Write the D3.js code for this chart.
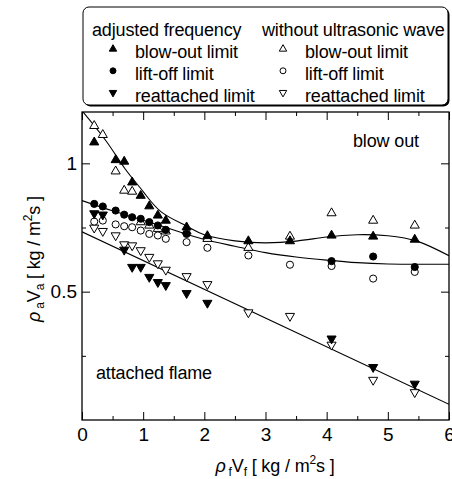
<!DOCTYPE html>
<html lang="en">
<head>
<meta charset="UTF-8">
<title>flame limits</title>
<style>
  body { margin: 0; background: #fff; }
  svg text { font-family: "Liberation Sans", Arial, sans-serif; fill: #000; }
  .lbl { letter-spacing: -0.15px; }
</style>
</head>
<body>
<svg width="452" height="479" id="svg"></svg>
<script src="https://d3js.org/d3.v7.min.js"></script>
<script>
// measured points, x = rho_f V_f, y = rho_a V_a
const blowAdjX = [0.2, 0.55, 0.69, 0.82, 0.96, 1.1, 1.24, 1.37, 1.71, 2.05, 2.72, 3.4, 4.08, 4.76, 5.44]
const blowAdjY = [1.082, 1.013, 1.007, 0.926, 0.874, 0.833, 0.797, 0.777, 0.751, 0.717, 0.697, 0.697, 0.719, 0.715, 0.703]

const blowNoX = [0.2, 0.34, 0.55, 0.69, 0.82, 0.96, 1.1, 1.24, 1.37, 1.71, 2.05, 2.72, 3.4, 4.08, 4.76, 5.44]
const blowNoY = [1.146, 1.111, 0.969, 0.894, 0.89, 0.771, 0.758, 0.745, 0.735, 0.735, 0.706, 0.671, 0.715, 0.806, 0.777, 0.758]

const liftAdjX = [0.2, 0.34, 0.55, 0.69, 0.82, 0.96, 1.1, 1.24, 1.37, 1.71, 4.08, 4.76, 5.44]
const liftAdjY = [0.842, 0.832, 0.816, 0.8, 0.79, 0.784, 0.771, 0.758, 0.741, 0.725, 0.619, 0.637, 0.596]

const liftNoX = [0.2, 0.34, 0.55, 0.69, 0.82, 0.96, 1.1, 1.24, 1.37, 1.71, 2.05, 2.72, 3.4, 4.08, 4.76, 5.44]
const liftNoY = [0.773, 0.777, 0.762, 0.755, 0.751, 0.738, 0.725, 0.719, 0.706, 0.693, 0.671, 0.641, 0.605, 0.6, 0.551, 0.577]

const reatAdjX = [0.2, 0.34, 0.69, 0.82, 0.96, 1.1, 1.24, 1.37, 1.71, 2.05, 4.08, 4.76, 5.44]
const reatAdjY = [0.805, 0.8, 0.663, 0.596, 0.596, 0.557, 0.537, 0.525, 0.494, 0.456, 0.317, 0.206, 0.141]

const reatNoX = [0.2, 0.34, 0.55, 0.69, 0.82, 0.96, 1.1, 1.24, 1.37, 1.71, 2.05, 2.72, 3.4, 4.08, 4.76, 5.44]
const reatNoY = [0.749, 0.736, 0.719, 0.684, 0.68, 0.661, 0.635, 0.61, 0.585, 0.56, 0.529, 0.419, 0.405, 0.293, 0.156, 0.108]

// fitted curves
const blowFitX = [0, 0.4, 0.7, 1.0, 1.3, 1.7, 2.0, 2.5, 3.0, 3.5, 4.0, 4.5, 5.0, 5.5, 6.0]
const blowFitY = [1.205, 1.085, 0.98, 0.89, 0.81, 0.757, 0.722, 0.698, 0.69, 0.697, 0.713, 0.722, 0.718, 0.695, 0.64]
const liftFitX = [0, 0.5, 1.0, 1.5, 2.0, 2.5, 3.0, 3.5, 4.0, 4.5, 5.0, 5.5, 6.0]
const liftFitY = [0.855, 0.815, 0.778, 0.74, 0.703, 0.677, 0.652, 0.635, 0.623, 0.613, 0.608, 0.607, 0.607]
const reatFitX = [0, 6]
const reatFitY = [0.733, 0.061]

const xTicks = [0, 1, 2, 3, 4, 5, 6]
const xMinor = [0.5, 1.5, 2.5, 3.5, 4.5, 5.5]
const yTicks = [0.5, 1]
const yMinor = [0.25, 0.75]

const svg = d3.select("svg#svg")
const pLeft = 82, pRight = 449, pTop = 112, pBottom = 420

const xScale = d3.scaleLinear().domain([0, 6]).range([pLeft, pRight])
const yScale = d3.scaleLinear().domain([0, 1.2]).range([pBottom, pTop])

const zip = (xs, ys) => xs.map((x, i) => ({ x: x, y: ys[i] }))

svg.append("clipPath").attr("id", "clip")
    .append("rect").attr("x", pLeft).attr("y", pTop).attr("width", pRight - pLeft).attr("height", pBottom - pTop)

// axes, ticks pointing in
function strip(g) {
    g.select(".domain").remove()
    g.selectAll("line").attr("stroke", "#000")
    g.selectAll("text").attr("font-size", 19).attr("font-family", "Liberation Sans, Arial")
}
svg.append("g").attr("transform", `translate(0,${pBottom})`)
    .call(d3.axisBottom(xScale).tickValues(xTicks).tickSize(-8).tickPadding(8).tickFormat(d3.format("d"))).call(strip)
svg.append("g").attr("transform", `translate(0,${pBottom})`)
    .call(d3.axisBottom(xScale).tickValues(xMinor).tickSize(-4).tickFormat("")).call(strip)
svg.append("g").attr("transform", `translate(0,${pTop})`)
    .call(d3.axisTop(xScale).tickValues(xTicks).tickSize(-8).tickFormat("")).call(strip)
svg.append("g").attr("transform", `translate(0,${pTop})`)
    .call(d3.axisTop(xScale).tickValues(xMinor).tickSize(-4).tickFormat("")).call(strip)
svg.append("g").attr("transform", `translate(${pLeft},0)`)
    .call(d3.axisLeft(yScale).tickValues(yTicks).tickSize(-8).tickPadding(5).tickFormat(d3.format("~g"))).call(strip)
svg.append("g").attr("transform", `translate(${pLeft},0)`)
    .call(d3.axisLeft(yScale).tickValues(yMinor).tickSize(-4).tickFormat("")).call(strip)
svg.append("g").attr("transform", `translate(${pRight},0)`)
    .call(d3.axisRight(yScale).tickValues(yTicks).tickSize(-8).tickFormat("")).call(strip)
svg.append("g").attr("transform", `translate(${pRight},0)`)
    .call(d3.axisRight(yScale).tickValues(yMinor).tickSize(-4).tickFormat("")).call(strip)

svg.append("rect").attr("x", pLeft).attr("y", pTop).attr("width", pRight - pLeft).attr("height", pBottom - pTop)
    .attr("fill", "none").attr("stroke", "#000").attr("stroke-width", 1.3)

// fit lines
const line = d3.line().x(d => xScale(d.x)).y(d => yScale(d.y)).curve(d3.curveNatural)
const fits = [zip(blowFitX, blowFitY), zip(liftFitX, liftFitY), zip(reatFitX, reatFitY)]
svg.append("g").attr("clip-path", "url(#clip)")
    .selectAll("path").data(fits).enter().append("path")
    .attr("d", line).attr("fill", "none").attr("stroke", "#000").attr("stroke-width", 1.1)

// markers
const up = d3.symbol().type(d3.symbolTriangle).size(36)()
const circ = d3.symbol().type(d3.symbolCircle).size(40)()
const series = [
    { pts: zip(reatNoX, reatNoY), path: up, rot: 180, fill: "#fff" },
    { pts: zip(liftNoX, liftNoY), path: circ, rot: 0, fill: "#fff" },
    { pts: zip(blowNoX, blowNoY), path: up, rot: 0, fill: "#fff" },
    { pts: zip(reatAdjX, reatAdjY), path: up, rot: 180, fill: "#000" },
    { pts: zip(liftAdjX, liftAdjY), path: circ, rot: 0, fill: "#000" },
    { pts: zip(blowAdjX, blowAdjY), path: up, rot: 0, fill: "#000" }
]
series.forEach(s => {
    svg.append("g").selectAll("path").data(s.pts).enter().append("path")
        .attr("d", s.path)
        .attr("transform", d => `translate(${xScale(d.x)},${yScale(d.y)}) rotate(${s.rot})`)
        .attr("fill", s.fill).attr("stroke", "#000").attr("stroke-width", 1)
})

// annotations
svg.append("text").attr("class", "lbl").attr("x", 353).attr("y", 147).attr("font-size", 18).text("blow out")
svg.append("text").attr("class", "lbl").attr("x", 96).attr("y", 379).attr("font-size", 18).text("attached flame")

// axis titles
const xt = svg.append("text").attr("class", "lbl").attr("x", 275).attr("y", 472).attr("text-anchor", "middle").attr("font-size", 18)
xt.append("tspan").attr("font-style", "italic").text("ρ")
xt.append("tspan").attr("font-size", 12).attr("dx", 3).attr("dy", 4).text("f")
xt.append("tspan").attr("dy", -4).text("V")
xt.append("tspan").attr("font-size", 12).attr("dy", 4).text("f")
xt.append("tspan").attr("dy", -4).text(" [ kg / m")
xt.append("tspan").attr("font-size", 12).attr("dy", -8).text("2")
xt.append("tspan").attr("dy", 8).text("s ]")

const yt = svg.append("text").attr("class", "lbl").attr("transform", "translate(40,259) rotate(-90)").attr("text-anchor", "middle").attr("font-size", 18)
yt.append("tspan").attr("font-style", "italic").text("ρ")
yt.append("tspan").attr("font-size", 12).attr("dx", 3).attr("dy", 4).text("a")
yt.append("tspan").attr("dy", -4).text("V")
yt.append("tspan").attr("font-size", 12).attr("dy", 4).text("a")
yt.append("tspan").attr("dy", -4).text(" [ kg / m")
yt.append("tspan").attr("font-size", 12).attr("dy", -8).text("2")
yt.append("tspan").attr("dy", 8).text("s ]")

// legend
const lg = svg.append("g")
lg.append("rect").attr("x", 84.5).attr("y", 8.5).attr("width", 365).attr("height", 98).attr("rx", 6)
    .attr("fill", "#000")
lg.append("rect").attr("x", 83).attr("y", 7).attr("width", 365).attr("height", 98).attr("rx", 6)
    .attr("fill", "#fff").attr("stroke", "#000").attr("stroke-width", 1)
const heads = ["adjusted frequency", "without ultrasonic wave"]
const labels = ["blow-out limit", "lift-off limit", "reattached limit"]
const colX = [92, 262]
const legShapes = [{ path: d3.symbol().type(d3.symbolTriangle).size(24)(), rot: 0 },
                   { path: d3.symbol().type(d3.symbolCircle).size(28)(), rot: 0 },
                   { path: d3.symbol().type(d3.symbolTriangle).size(24)(), rot: 180 }]
heads.forEach((h, c) => {
    lg.append("text").attr("class", "lbl").attr("x", colX[c]).attr("y", 36).attr("font-size", 18).text(h)
    labels.forEach((t, r) => {
        const by = 58 + r * 21.8
        lg.append("path").attr("d", legShapes[r].path)
            .attr("transform", `translate(${colX[c] + 21},${by - 9}) rotate(${legShapes[r].rot})`)
            .attr("fill", c === 0 ? "#000" : "#fff").attr("stroke", "#000").attr("stroke-width", 1)
        lg.append("text").attr("class", "lbl").attr("x", colX[c] + 43).attr("y", by).attr("font-size", 18).text(t)
    })
})
</script>
</body>
</html>
